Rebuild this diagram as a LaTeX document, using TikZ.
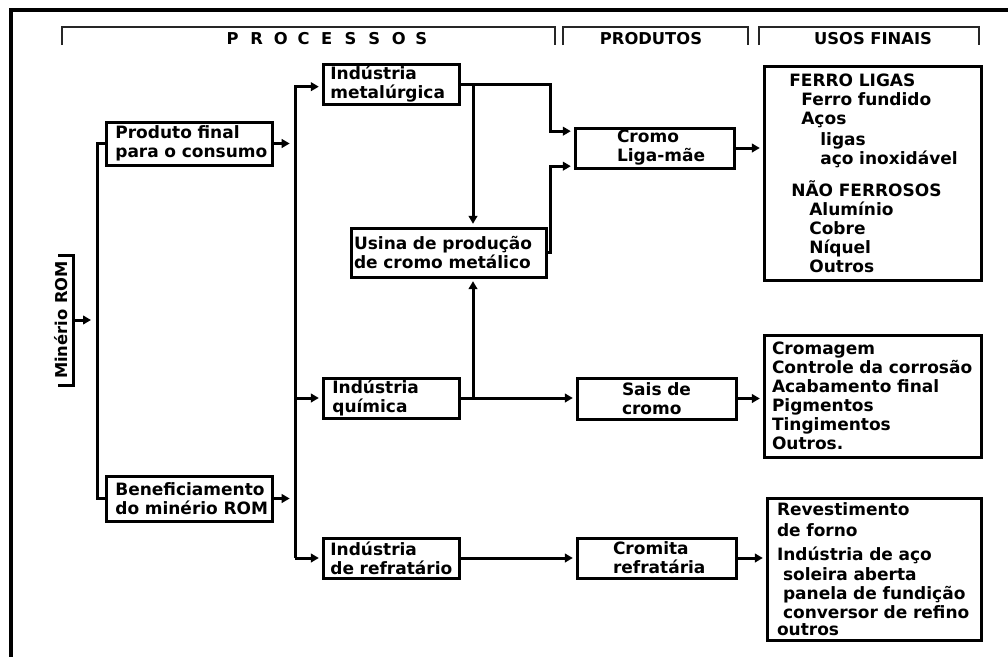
\documentclass[tikz,border=0pt]{standalone}
\usepackage{fontspec}
\setmainfont{DejaVu Sans}
\usetikzlibrary{arrows.meta}
\newcommand\boxfont{\fontsize{12.75pt}{14.25pt}\selectfont\bfseries\hbadness=10000\hfuzz=200pt}
\newcommand\hdrfont{\fontsize{12.25pt}{14pt}\selectfont\bfseries}
\newcommand\pletter[1]{\makebox[17.7pt][l]{#1}}
\begin{document}
\begin{tikzpicture}[x=0.75pt,y=-0.75pt,
  ln/.style={line width=2.25pt},
  arr/.style={ln,-{Triangle[length=6pt,width=6.5pt]},shorten >=2pt},
  arrs/.style={arr,shorten >=4pt},
  box/.style 2 args={draw,line width=2.25pt,font=\boxfont,align=left,inner xsep=#1,inner ysep=0pt,text width=#2},
  hdr/.style={line width=1.5pt,black!85},
  htext/.style={font=\hdrfont,inner sep=0pt}]
\useasboundingbox (0,0) rectangle (1008,657);

% frame
\draw[line width=2.5pt] (1008,10) -- (11,10) -- (11,657);

% headers
\draw[hdr] (62,45) -- (62,27) -- (555,27) -- (555,45);
\draw[hdr] (563,45) -- (563,27) -- (748,27) -- (748,45);
\draw[hdr] (759,45) -- (759,27) -- (979,27) -- (979,45);
\node[htext] (hproc) at (327,39) {\pletter{P}\pletter{R}\pletter{O}\pletter{C}\pletter{E}\pletter{S}\pletter{S}\pletter{O}S};
\node[htext] (hprod) at (651,39) {PRODUTOS};
\node[htext] (husos) at (873,39) {USOS FINAIS};

% coordinates of spines
\coordinate (sp1) at (97,0);
\coordinate (sp2) at (295,0);
\coordinate (jx) at (550,0);
\coordinate (vx) at (473,0);

% boxes
\node[box={7pt}{110.5pt},minimum width=124.5pt,minimum height=32.25pt] (prod) at (189,143.5) {\mbox{Produto final}\\\mbox{para o consumo}};
\node[box={7pt}{110.5pt},minimum width=124.5pt,minimum height=33.75pt] (benef) at (189,498.5) {\mbox{Beneficiamento}\\\mbox{do minério ROM}};
\node[box={5.5pt}{91pt},minimum width=102pt,minimum height=30pt] (metal) at (391,84) {\mbox{Indústria}\\\mbox{metalúrgica}};
\node[box={2.25pt}{141.75pt},minimum width=146.25pt,minimum height=36.75pt] (usina) at (448.5,252.5) {\mbox{Usina de produção}\\\mbox{de cromo metálico}};
\node[box={7pt}{88pt},minimum width=102pt,minimum height=30pt] (quim) at (391,398) {\mbox{Indústria}\\\mbox{química}};
\node[box={5.5pt}{91pt},minimum width=102pt,minimum height=30pt] (refr) at (391,558) {\mbox{Indústria}\\\mbox{de refratário}};
\node[box={31.5pt}{56.25pt},minimum width=119.25pt,minimum height=30pt] (cromo) at (654.5,148) {\mbox{Cromo}\\\mbox{Liga-mãe}};
\node[box={33.75pt}{51.75pt},minimum width=119.25pt,minimum height=30.75pt] (sais) at (656.5,398.5) {\mbox{Sais de}\\\mbox{cromo}};
\node[box={27pt}{65.25pt},minimum width=119.25pt,minimum height=30pt] (cromita) at (656.5,558) {\mbox{Cromita}\\\mbox{refratária}};
\node[box={19pt}{124.75pt},minimum width=162.75pt,minimum height=160.5pt] (ferro) at (872.5,173) {%
\mbox{FERRO LIGAS}\\
\mbox{\hspace*{9pt}Ferro fundido}\\
\mbox{\hspace*{9pt}Aços}\\[1.5pt]
\mbox{\hspace*{23.25pt}ligas}\\
\mbox{\hspace*{23.25pt}aço inoxidável}\\[8.5pt]
\mbox{\hspace*{1.5pt}NÃO FERROSOS}\\
\mbox{\hspace*{15pt}Alumínio}\\
\mbox{\hspace*{15pt}Cobre}\\
\mbox{\hspace*{15pt}Níquel}\\
\mbox{\hspace*{15pt}Outros}};
\node[box={6pt}{150.75pt},minimum width=162.75pt,minimum height=91.5pt] (cromag) at (872.5,396) {%
\mbox{Cromagem}\\\mbox{Controle da corrosão}\\\mbox{Acabamento final}\\\mbox{Pigmentos}\\\mbox{Tingimentos}\\\mbox{Outros.}};
\node[box={7.5pt}{145.5pt},minimum width=160.5pt,minimum height=106.5pt] (revest) at (874,569) {%
\mbox{Revestimento}\\[1.3pt]
\mbox{de forno}\\[4pt]
\mbox{Indústria de aço}\\[0.75pt]
\mbox{\hspace*{4.5pt}soleira aberta}\\
\mbox{\hspace*{4.5pt}panela de fundição}\\
\mbox{\hspace*{4.5pt}conversor de refino}\\[-2pt]
\mbox{outros}};

% Minerio ROM
\node[font=\hdrfont,rotate=90,inner sep=0pt] (min) at (61,320) {Minério ROM};
\draw[ln] (58,255) -- (73,255) -- (73,385) -- (58,385);
\coordinate (minb) at (73,320);
\draw[arr,shorten >=4.5pt] (minb) -- (sp1 |- minb);

% spine 1
\draw[ln] (prod.west) -| (sp1 |- benef.west) -- (benef.west);

% to spine 2
\draw[arrs] (prod.east) -- (sp2 |- prod.east);
\draw[arrs] (benef.east) -- (sp2 |- benef.east);

% spine 2
\draw[arr] (sp2 |- refr.west) |- ([yshift=-2pt]metal.west);
\draw[arr] (sp2 |- refr.west) -- (refr.west);
\draw[arr] (sp2 |- quim.west) -- (quim.west);

% metallurgy & usina to cromo
\coordinate (cin1) at ([yshift=-3.5pt]cromo.north west);
\coordinate (cin2) at ([yshift=2.5pt]cromo.south west);
\draw[arr] (metal.east) -| (jx |- cin1) -- (cin1);
\draw[arr] (usina.east) -| (jx |- cin2) -- (cin2);
\draw[arr] (vx |- metal.east) -- (vx |- usina.north);
\draw[arr] (vx |- quim.east) -- (vx |- usina.south);

% products
\draw[arr] (quim.east) -- (sais.west |- quim.east);
\draw[arr] (refr.east) -- (cromita.west |- refr.east);

% final uses
\draw[arr] (cromo.east) -- (ferro.west |- cromo.east);
\draw[arr] (sais.east) -- (cromag.west |- sais.east);
\draw[arr] (cromita.east) -- (revest.west |- cromita.east);
\end{tikzpicture}
\end{document}
